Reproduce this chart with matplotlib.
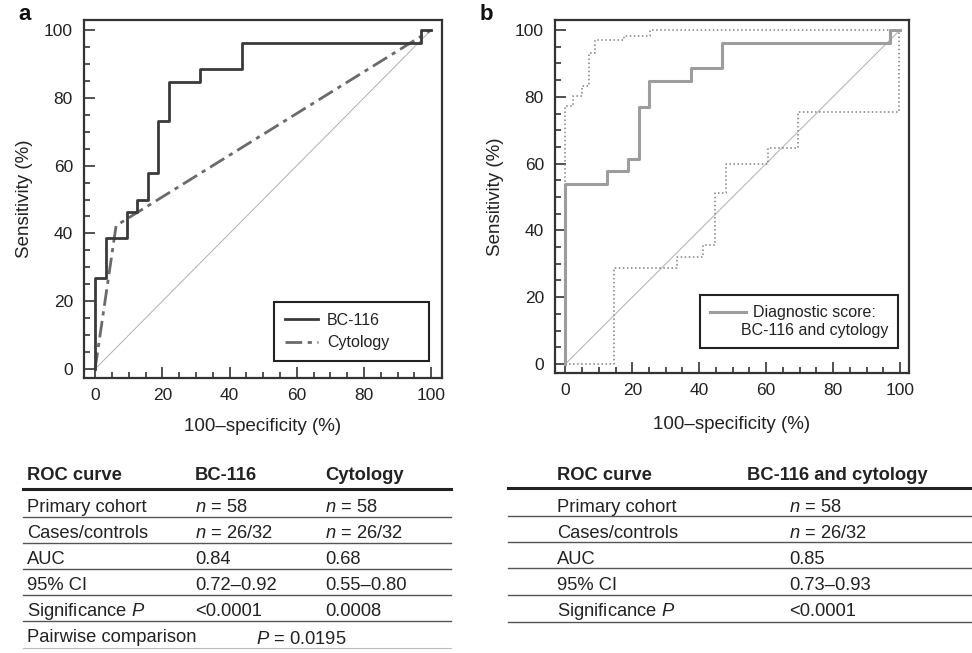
import numpy as np
import matplotlib
matplotlib.use("Agg")
import matplotlib.pyplot as plt
from matplotlib.lines import Line2D

plt.rcParams['font.family'] = ['Liberation Sans', 'DejaVu Sans']
plt.rcParams['mathtext.fontset'] = 'custom'
plt.rcParams['mathtext.it'] = 'Liberation Sans:italic'
plt.rcParams['mathtext.rm'] = 'Liberation Sans'

# ---- data (100-specificity %, sensitivity %) ----
bc116_x = [0, 0, 3.125, 3.125, 9.375, 9.375, 12.5, 12.5, 15.625, 15.625, 18.75, 18.75,
           21.875, 21.875, 31.25, 31.25, 43.75, 43.75, 96.875, 96.875, 100]
bc116_y = [0, 26.9, 26.9, 38.5, 38.5, 46.2, 46.2, 50.0, 50.0, 57.7, 57.7, 73.1,
           73.1, 84.6, 84.6, 88.5, 88.5, 96.2, 96.2, 100, 100]

cyto_x = [0, 6.25, 100]
cyto_y = [0, 42.3, 100]

score_x = [0, 0, 12.5, 12.5, 18.75, 18.75, 21.875, 21.875, 25.0, 25.0, 37.5, 37.5,
           46.875, 46.875, 96.875, 96.875, 100]
score_y = [0, 53.8, 53.8, 57.7, 57.7, 61.5, 61.5, 76.9, 76.9, 84.6, 84.6, 88.5,
           88.5, 96.2, 96.2, 100, 100]

upper_x = [0, 0, 2.3, 2.3, 5.0, 5.0, 7.1, 7.1, 8.8, 8.8, 17.5, 17.5, 25.2, 25.2, 100]
upper_y = [0, 77.3, 77.3, 80.1, 80.1, 83.3, 83.3, 93.0, 93.0, 96.9, 96.9, 98.2, 98.2, 100, 100]

lower_x = [0, 14.5, 14.5, 33.4, 33.4, 41.2, 41.2, 44.6, 44.6, 48.0, 48.0, 60.5, 60.5,
           69.4, 69.4, 99.8, 99.8, 100]
lower_y = [0, 0, 28.8, 28.8, 32.1, 32.1, 35.6, 35.6, 51.2, 51.2, 59.8, 59.8, 64.6,
           64.6, 75.5, 75.5, 100, 100]

# ---- table contents ----
tab_a_header = ["ROC curve", "BC-116", "Cytology"]
tab_a_rows = [
    ["Primary cohort", "$n$ = 58", "$n$ = 58"],
    ["Cases/controls", "$n$ = 26/32", "$n$ = 26/32"],
    ["AUC", "0.84", "0.68"],
    ["95% CI", "0.72\u20130.92", "0.55\u20130.80"],
    ["Significance $P$", "<0.0001", "0.0008"],
]
tab_a_pairwise = ["Pairwise comparison", "$P$ = 0.0195"]

tab_b_header = ["ROC curve", "BC-116 and cytology"]
tab_b_rows = [
    ["Primary cohort", "$n$ = 58"],
    ["Cases/controls", "$n$ = 26/32"],
    ["AUC", "0.85"],
    ["95% CI", "0.73\u20130.93"],
    ["Significance $P$", "<0.0001"],
]

W, H = 972, 653
fig = plt.figure(figsize=(W / 100, H / 100), dpi=100)
txt = '#222222'
frame = '#333333'


def style_ax(ax, xlim, ylim, xpad):
    ax.set_xlim(*xlim)
    ax.set_ylim(*ylim)
    ax.set_xticks(np.arange(0, 101, 20))
    ax.set_yticks(np.arange(0, 101, 20))
    ax.set_xticks(np.arange(0, 101, 5), minor=True)
    ax.set_yticks(np.arange(0, 101, 5), minor=True)
    ax.tick_params(which='both', direction='in', color=frame, width=1.2,
                   labelsize=12.5, labelcolor=txt)
    ax.tick_params(which='major', length=8)
    ax.tick_params(which='minor', length=4)
    ax.tick_params(axis='x', pad=7)
    ax.tick_params(axis='y', pad=8)
    for s in ax.spines.values():
        s.set_linewidth(1.6)
        s.set_color(frame)
    ax.set_xlabel("100\u2013specificity (%)", fontsize=13.5, color=txt, labelpad=xpad)
    ax.set_ylabel("Sensitivity (%)", fontsize=13.5, color=txt, labelpad=8)
    ax.plot([0, 100], [0, 100], color='#b0b0b0', lw=0.7, zorder=1)


# ---- panel a ----
ax1 = fig.add_axes([84 / W, 1 - 378 / H, 358 / W, 358 / H])
style_ax(ax1, (-3.3, 103.2), (-2.65, 102.95), 11)
ax1.plot(cyto_x, cyto_y, color='#6a6a6a', lw=2, ls='-.', dashes=(6, 2, 1.5, 2),
         label='Cytology', zorder=2)
ax1.plot(bc116_x, bc116_y, color='#3a3a3a', lw=2, label='BC-116', zorder=3)
h, l = ax1.get_legend_handles_labels()
leg1 = ax1.legend(h[::-1], l[::-1], loc='lower left',
                  bbox_to_anchor=(0.531, 0.047, 0.433, 0.165), mode='expand',
                  borderaxespad=0, fancybox=False, edgecolor='#222222', fontsize=11.5,
                  handlelength=2.07, handletextpad=0.56, borderpad=0.69,
                  labelspacing=0.45, framealpha=1)
leg1.get_frame().set_linewidth(1.5)
for t in leg1.get_texts():
    t.set_color(txt)

# ---- panel b ----
ax2 = fig.add_axes([555 / W, 1 - 373 / H, 354 / W, 353 / H])
style_ax(ax2, (-3.1, 102.7), (-2.7, 103.0), 13)
ax2.plot(upper_x, upper_y, color='#808080', lw=1.1, ls=':', zorder=2)
ax2.plot(lower_x, lower_y, color='#808080', lw=1.1, ls=':', zorder=2)
ax2.plot(score_x, score_y, color='#9d9d9d', lw=2.2, zorder=3,
         label='Diagnostic score:\nBC-116 and cytology')
leg2 = ax2.legend(loc='lower right', bbox_to_anchor=(0.969, 0.071), borderaxespad=0,
                  fancybox=False, edgecolor='#222222', fontsize=11.5, handlelength=2.26,
                  handletextpad=-0.3, borderpad=0.6, framealpha=1)
leg2.get_frame().set_linewidth(1.5)
for t in leg2.get_texts():
    t.set_color(txt)
    t.set_multialignment('center')
    t.set_linespacing(1.3)
hl = leg2.get_lines()[0]
hl.set_ydata(np.asarray(hl.get_ydata()) + 7.5)

fig.text(18 / W, 1 - 15 / H, "a", fontsize=16, fontweight='bold', va='center', color='#111111')
fig.text(480 / W, 1 - 15 / H, "b", fontsize=16, fontweight='bold', va='center', color='#111111')


# ---- tables ----
def hline(x0, x1, y, lw, color):
    fig.add_artist(Line2D([x0 / W, x1 / W], [1 - y / H, 1 - y / H], lw=lw, color=color))


def put(x, y, s, bold=False):
    fig.text(x / W, 1 - y / H, s, fontsize=13.2, color=txt, va='center', ha='left',
             fontweight='bold' if bold else 'normal')


# table a
cols_a = [27, 195, 325]
for x, s in zip(cols_a, tab_a_header):
    put(x, 476, s, bold=True)
hline(23, 451, 489, 2.2, '#222222')
row_y_a = [507, 533, 559, 586, 612]
line_y_a = [517, 543, 569, 595, 621]
for ry, ly, row in zip(row_y_a, line_y_a, tab_a_rows):
    for x, s in zip(cols_a, row):
        put(x, ry, s)
    hline(23, 451, ly, 1.0, '#555555')
put(cols_a[0], 638, tab_a_pairwise[0])
put(256, 639, tab_a_pairwise[1])
hline(23, 451, 648, 0.8, '#bbbbbb')

# table b
cols_b = [557, 789]
put(cols_b[0], 476, tab_b_header[0], bold=True)
put(747, 475, tab_b_header[1], bold=True)
hline(508, 972, 488, 2.2, '#222222')
row_y_b = [507, 533, 559, 585, 611]
line_y_b = [516, 542, 568, 595, 622]
for ry, ly, row in zip(row_y_b, line_y_b, tab_b_rows):
    for x, s in zip(cols_b, row):
        put(x, ry, s)
    hline(508, 972, ly, 1.0, '#555555')

fig.savefig("out.png", dpi=100)
